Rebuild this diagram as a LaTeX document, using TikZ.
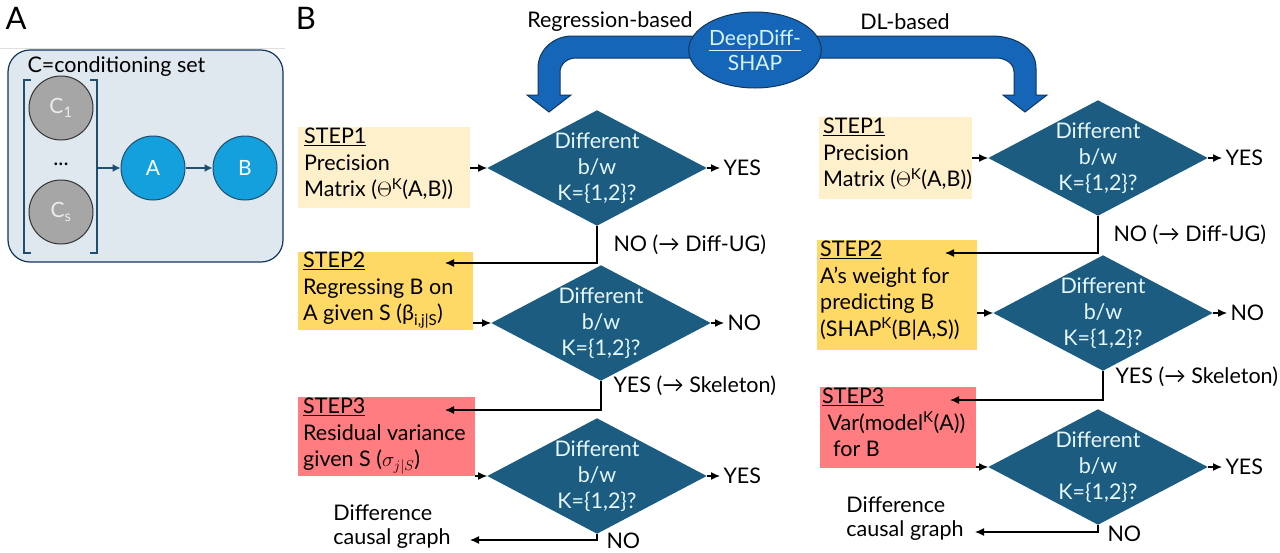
\documentclass[tikz,border=0pt]{standalone}
\usepackage{fontspec}
\setmainfont{Lato}
\usetikzlibrary{shapes.geometric,arrows.meta}
\definecolor{dia}{HTML}{1B5C80}
\definecolor{bluecirc}{HTML}{14A0DC}
\definecolor{darkline}{HTML}{1F4E6E}
\definecolor{panel}{HTML}{DFE8EF}
\definecolor{s1}{HTML}{FFF0CC}
\definecolor{s2}{HTML}{FFD966}
\definecolor{s3}{HTML}{FF7C80}
\definecolor{bigblue}{HTML}{1566B8}
\definecolor{navy}{HTML}{12355B}
\begin{document}
\begin{tikzpicture}[x=1pt,y=-1pt,
  txt/.style={font=\fontsize{21.5}{24}\selectfont},
  diam/.style={diamond,fill=dia,draw=none,minimum width=208pt,minimum height=110pt,inner sep=0pt,aspect=1.9,text=white!90!cyan,align=center,font=\fontsize{21.5}{26}\selectfont},
  stepbox/.style={anchor=north west,inner sep=0pt},
  steptext/.style={anchor=north west,align=left,inner sep=0pt,font=\fontsize{21.5}{26.5}\selectfont},
  arr/.style={-{Latex[length=9pt,width=8pt]},line width=1.2pt},
  circ/.style={circle,draw=darkline,line width=1pt,minimum size=64pt,inner sep=0pt,font=\fontsize{21}{23}\selectfont,text=white}]
\useasboundingbox (0,0) rectangle (1280,552);
% Panel A
\node[font=\fontsize{31}{32}\selectfont] (la) at (16,18) {A};
\draw[gray!25,line width=0.8pt] (0,48) -- (285,48);
\draw[fill=panel,draw=navy,line width=1.2pt,rounded corners=22pt] (8,50) rectangle (283,262);
\node[txt,anchor=west] (cset) at (24,67) {C=conditioning set};
\draw[darkline,line width=1.2pt] (31,80) -- (24,80) -- (24,253) -- (31,253);
\draw[darkline,line width=1.2pt] (90,80) -- (97,80) -- (97,253) -- (90,253);
\node[circ,fill=gray!70,draw=gray!40!black,text=white!85!gray] (c1) at (61,108) {C\textsubscript{1}};
\node[circ,fill=gray!70,draw=gray!40!black,text=white!85!gray] (cs) at (61,212) {C\textsubscript{s}};
\node[txt] (dots) at (61,164) {...};
\coordinate (brk) at (98,168);
\node[circ,fill=bluecirc] (na) at (153,168) {A};
\node[circ,fill=bluecirc] (nb) at (245,168) {B};
\draw[-{Latex[length=8pt,width=8pt]},darkline,line width=1.2pt] (brk) -- (na);
\draw[-{Latex[length=8pt,width=8pt]},darkline,line width=1.2pt] (na) -- (nb);
% Panel B
\node[font=\fontsize{31}{32}\selectfont] (lb) at (306,18) {B};
\node[txt] (rb) at (610,22) {Regression-based};
\node[txt] (db) at (905,22) {DL-based};
\draw[fill=bigblue,draw=navy,line width=1pt] (705,36) -- (572,36) to[out=180,in=90] (538,68) -- (538,95) -- (527,95) -- (549,112) -- (571,95) -- (560,95) -- (560,72) to[out=90,in=180] (576,58) -- (705,58);
\draw[fill=bigblue,draw=navy,line width=1pt] (805,36) -- (992,36) to[out=0,in=90] (1036,68) -- (1036,95) -- (1047,95) -- (1025,112) -- (1003,95) -- (1014,95) -- (1014,72) to[out=90,in=0] (996,58) -- (805,58);
\node[ellipse,fill=bigblue,draw=navy,line width=1pt,minimum width=122pt,minimum height=76pt,inner sep=1pt,align=center,text=white!85!cyan,font=\fontsize{21}{25}\selectfont] (dd) at (755,50) {\underline{DeepDiff-}\\SHAP};
% Left column
\node[stepbox,fill=s1,minimum width=172pt,minimum height=81pt] (l1) at (298,127) {};
\node[steptext] (l1t) at (304,128) {\underline{STEP1}\\Precision\\Matrix ($\Theta$\textsuperscript{K}(A,B))};
\node[diam] (ld1) at (597,168) {Different\\b/w\\K=\{1,2\}?};
\node[txt,anchor=west] (ly1) at (720,168) {YES};
\node[stepbox,fill=s2,minimum width=175pt,minimum height=78pt] (l2) at (298,252) {};
\node[steptext] (l2t) at (303,252) {\underline{STEP2}\\Regressing B on\\A given S (β\textsubscript{i,j|S})};
\node[diam] (ld2) at (601,323) {Different\\b/w\\K=\{1,2\}?};
\node[txt,anchor=west] (ln2) at (724,323) {NO};
\node[stepbox,fill=s3,minimum width=177pt,minimum height=79pt] (l3) at (298,397) {};
\node[steptext] (l3t) at (303,398) {\underline{STEP3}\\Residual variance\\given S ($\sigma_{j|S}$)};
\node[diam] (ld3) at (597,476) {Different\\b/w\\K=\{1,2\}?};
\node[txt,anchor=west] (ly3) at (720,476) {YES};
\node[txt,align=left] (lout) at (392,527) {Difference\\causal graph};
\coordinate (lc1) at (445,263);
\coordinate (lc2) at (445,410);
\coordinate (lc3) at (470,540);
\draw[arr] (l1.east |- ld1.west) -- (ld1.west);
\draw[arr] (ld1.east) -- (ly1.west);
\draw[arr] (ld1.south) -- (ld1.south |- lc1) -- (lc1);
\node[txt,anchor=west] (lno1) at (610,245) {NO (→ Diff-UG)};
\draw[arr] (l2.east |- ld2.west) -- (ld2.west);
\draw[arr] (ld2.east) -- (ln2.west);
\draw[arr] (ld2.south) -- (ld2.south |- lc2) -- (lc2);
\node[txt,anchor=west] (lyes2) at (610,386) {YES (→ Skeleton)};
\draw[arr] (l3.east |- ld3.west) -- (ld3.west);
\draw[arr] (ld3.east) -- (ly3.west);
\draw[arr] (ld3.south) -- (ld3.south |- lc3) -- (lc3);
\node[txt,anchor=west] (lno3) at (603,541) {NO};
% Right column
\node[stepbox,fill=s1,minimum width=153pt,minimum height=82pt] (r1) at (819,117) {};
\node[steptext] (r1t) at (823,118) {\underline{STEP1}\\Precision\\Matrix ($\Theta$\textsuperscript{K}(A,B))};
\node[diam] (rd1) at (1098,158) {Different\\b/w\\K=\{1,2\}?};
\node[txt,anchor=west] (ry1) at (1222,158) {YES};
\node[stepbox,fill=s2,minimum width=160pt,minimum height=110pt] (r2) at (817,240) {};
\node[steptext] (r2t) at (820,241) {\underline{STEP2}\\A’s weight for\\predicting B\\(SHAP\textsuperscript{K}(B|A,S))};
\node[diam] (rd2) at (1103,313) {Different\\b/w\\K=\{1,2\}?};
\node[txt,anchor=west] (rn2) at (1227,313) {NO};
\node[stepbox,fill=s3,minimum width=156pt,minimum height=81pt] (r3) at (820,387) {};
\node[steptext] (r3t) at (822,388) {\underline{STEP3}\\\ Var(model\textsuperscript{K}(A))\\\ \ for B};
\node[diam] (rd3) at (1098,467) {Different\\b/w\\K=\{1,2\}?};
\node[txt,anchor=west] (ry3) at (1222,467) {YES};
\node[txt,align=left] (rout) at (905,519) {Difference\\causal graph};
\coordinate (rc1) at (945,253);
\coordinate (rc2) at (950,400);
\coordinate (rc3) at (975,532);
\draw[arr] (r1.east |- rd1.west) -- (rd1.west);
\draw[arr] (rd1.east) -- (ry1.west);
\draw[arr] (rd1.south) -- (rd1.south |- rc1) -- (rc1);
\node[txt,anchor=west] (rno1) at (1110,235) {NO (→ Diff-UG)};
\draw[arr] (r2.east |- rd2.west) -- (rd2.west);
\draw[arr] (rd2.east) -- (rn2.west);
\draw[arr] (rd2.south) -- (rd2.south |- rc2) -- (rc2);
\node[txt,anchor=west] (ryes2) at (1112,377) {YES (→ Skeleton)};
\draw[arr] (r3.east |- rd3.west) -- (rd3.west);
\draw[arr] (rd3.east) -- (ry3.west);
\draw[arr] (rd3.south) -- (rd3.south |- rc3) -- (rc3);
\node[txt,anchor=west] (rno3) at (1104,534) {NO};
\end{tikzpicture}
\end{document}
